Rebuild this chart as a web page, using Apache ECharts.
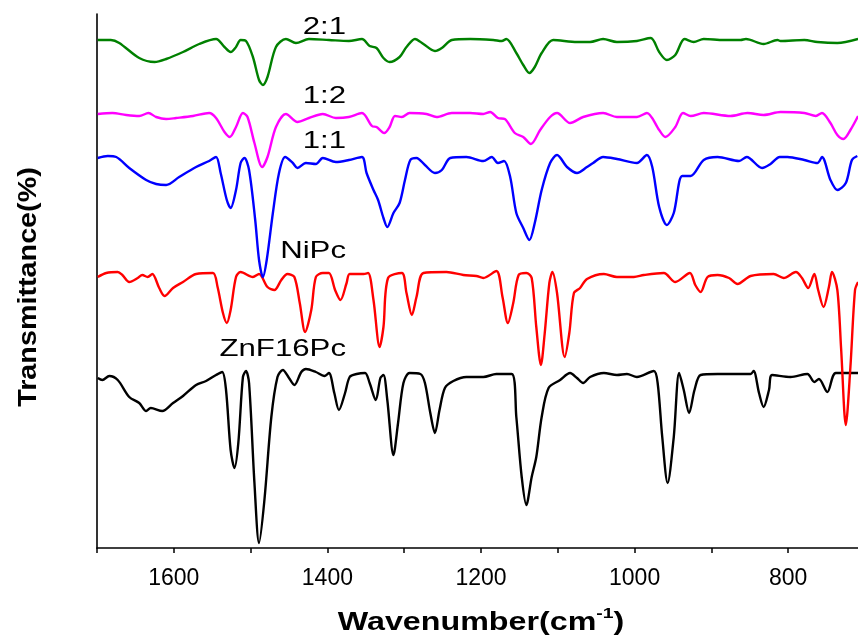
<!DOCTYPE html>
<html>
<head>
<meta charset="utf-8">
<script src="https://cdn.jsdelivr.net/npm/echarts@6/dist/echarts.min.js"></script>
<style>html,body{margin:0;padding:0;background:#fff}#c{width:858px;height:639px}</style>
</head>
<body>
<div id="c"></div>
<script>
// Wavenumber (cm-1) vs. offset transmittance (arbitrary units)
const seriesNames = ['ZnF16Pc', 'NiPc', '1:1', '1:2', '2:1'];
const tickLabels = [1600, 1400, 1200, 1000, 800];

const znF16Pc = [[1699,170],[1693,168],[1684,172],[1673,168],[1658,151],[1645,145],[1636,137],[1630,140],[1615,137],[1601,145],[1588,152],[1571,163],[1558,167],[1545,173],[1537,176],[1532,158],[1526,98],[1521,80],[1516,105],[1510,171],[1506,177],[1502,165],[1495,65],[1489,5],[1482,48],[1473,131],[1465,171],[1458,178],[1450,170],[1443,163],[1434,176],[1428,179],[1415,176],[1404,172],[1398,175],[1391,155],[1385,138],[1377,155],[1371,171],[1362,174],[1351,175],[1345,165],[1337,148],[1331,170],[1327,173],[1322,148],[1314,93],[1308,125],[1301,165],[1293,175],[1279,174],[1273,165],[1266,135],[1260,115],[1254,138],[1247,160],[1236,167],[1219,171],[1197,171],[1180,174],[1160,174],[1154,131],[1147,71],[1141,43],[1134,71],[1128,91],[1121,131],[1112,160],[1097,168],[1084,175],[1075,170],[1067,165],[1058,171],[1040,175],[1023,173],[1010,174],[997,171],[975,177],[970,165],[964,111],[957,65],[949,111],[942,175],[936,158],[929,135],[922,158],[914,173],[892,174],[875,174],[849,174],[845,177],[838,155],[832,141],[825,158],[821,173],[797,171],[775,174],[766,166],[760,169],[749,156],[738,175],[709,175]];

const niPc = [[1699,271],[1688,275],[1673,276],[1667,273],[1658,266],[1647,270],[1641,273],[1634,271],[1628,274],[1619,260],[1612,252],[1601,260],[1588,266],[1571,274],[1549,275],[1543,261],[1536,235],[1531,225],[1526,238],[1519,271],[1513,276],[1497,271],[1489,274],[1478,261],[1469,258],[1460,268],[1452,274],[1443,271],[1436,245],[1429,216],[1421,238],[1415,271],[1406,275],[1398,275],[1390,258],[1383,248],[1375,265],[1371,274],[1353,274],[1347,275],[1340,248],[1332,201],[1327,221],[1321,270],[1303,275],[1297,255],[1290,233],[1284,251],[1275,275],[1245,276],[1223,273],[1206,272],[1197,270],[1180,277],[1172,251],[1165,225],[1158,245],[1151,273],[1141,275],[1134,270],[1128,221],[1122,183],[1117,215],[1111,265],[1107,276],[1101,255],[1091,191],[1085,215],[1079,255],[1071,260],[1062,269],[1040,274],[1023,271],[1001,271],[988,273],[962,275],[947,266],[928,275],[921,263],[914,256],[905,271],[892,273],[877,270],[866,264],[849,272],[819,274],[806,270],[790,276],[782,270],[774,260],[766,274],[761,258],[754,241],[747,261],[743,276],[736,258],[731,198],[725,123],[719,181],[713,258],[709,266]];

const ratio11 = [[1699,390],[1686,392],[1675,391],[1658,380],[1636,368],[1623,364],[1610,363],[1593,371],[1571,381],[1554,387],[1545,391],[1539,375],[1531,348],[1526,340],[1519,358],[1513,385],[1508,390],[1502,378],[1494,328],[1489,288],[1484,271],[1479,288],[1471,335],[1463,375],[1455,391],[1445,385],[1439,380],[1428,385],[1415,384],[1406,390],[1389,386],[1372,388],[1355,391],[1349,375],[1340,358],[1334,348],[1327,330],[1322,321],[1314,335],[1306,345],[1299,368],[1292,388],[1284,390],[1273,383],[1260,375],[1251,378],[1240,390],[1219,391],[1197,387],[1186,391],[1178,385],[1170,387],[1162,371],[1154,335],[1145,320],[1137,308],[1130,325],[1121,358],[1110,385],[1101,393],[1088,381],[1075,375],[1062,381],[1054,385],[1041,391],[1023,389],[997,385],[984,393],[977,381],[968,341],[958,323],[949,335],[938,372],[927,372],[910,388],[892,391],[864,387],[854,391],[834,380],[823,384],[811,391],[801,391],[779,388],[762,385],[756,391],[745,368],[736,358],[725,365],[717,388],[710,392]];

const ratio12 = [[1699,434],[1680,435],[1662,433],[1645,432],[1633,435],[1623,431],[1610,429],[1597,430],[1575,432],[1554,435],[1545,430],[1534,416],[1527,411],[1519,421],[1510,435],[1504,431],[1495,405],[1485,381],[1478,391],[1467,421],[1454,434],[1439,426],[1424,430],[1406,434],[1389,430],[1372,431],[1355,435],[1342,422],[1336,421],[1326,415],[1319,421],[1312,432],[1303,431],[1293,435],[1271,434],[1258,431],[1238,435],[1214,435],[1197,434],[1188,436],[1178,430],[1169,429],[1156,415],[1145,411],[1135,404],[1123,418],[1110,431],[1101,435],[1084,425],[1067,431],[1041,435],[1023,431],[997,431],[984,435],[968,418],[960,411],[947,421],[937,435],[927,432],[910,435],[875,432],[853,435],[832,433],[810,436],[779,435],[764,432],[756,435],[745,425],[736,413],[728,409],[719,418],[709,432]];

const ratio21 = [[1699,508],[1682,508],[1671,505],[1645,490],[1625,486],[1610,489],[1588,496],[1567,504],[1545,509],[1534,501],[1526,496],[1519,501],[1513,508],[1506,507],[1497,491],[1489,468],[1484,463],[1478,471],[1467,501],[1454,509],[1441,505],[1424,509],[1398,508],[1372,507],[1355,509],[1345,502],[1336,500],[1327,490],[1319,486],[1306,491],[1297,501],[1286,509],[1275,504],[1260,497],[1251,500],[1238,508],[1214,509],[1184,508],[1173,507],[1167,509],[1154,495],[1145,483],[1137,475],[1130,481],[1121,495],[1106,508],[1075,506],[1058,506],[1041,509],[1023,506],[997,507],[979,510],[968,496],[958,488],[947,493],[935,509],[923,506],[910,509],[884,508],[862,508],[855,509],[832,504],[814,508],[810,507],[779,508],[762,506],[736,505],[709,509]];

const seriesData = [znF16Pc, niPc, ratio11, ratio12, ratio21];
const seriesColors = ['#000000', '#ff0000', '#0000ff', '#ff00ff', '#008000'];

const chart = echarts.init(document.getElementById('c'), null, {renderer: 'canvas'});

const labelFont = '"Liberation Sans", Arial, sans-serif';
function annot(text, y) {
  return {
    type: 'text', x: 346, y: y, scaleX: 1.3, z: 100,
    style: {text: text, x: 0, y: 0, align: 'right', verticalAlign: 'middle',
      font: '24px ' + labelFont, fill: '#000'}
  };
}

chart.setOption({
  animation: false,
  backgroundColor: '#fff',
  grid: {left: 97, right: -7, top: 14, bottom: 91, containLabel: false, outerBoundsMode: 'none'},
  xAxis: {
    type: 'value', min: 700, max: 1700, interval: 100, inverse: true,
    axisLine: {show: true, onZero: false, lineStyle: {color: '#000', width: 1.6}},
    axisTick: {show: true, length: 5, inside: false, lineStyle: {color: '#000', width: 1.5}},
    axisLabel: {
      show: true, margin: 19, color: '#000', fontSize: 23, fontFamily: labelFont,
      formatter: function (v) { return tickLabels.indexOf(v) >= 0 ? String(v) : ''; }
    },
    splitLine: {show: false}
  },
  yAxis: {
    type: 'value', min: 0, max: 534,
    axisLine: {show: true, lineStyle: {color: '#000', width: 1.6}},
    axisTick: {show: false}, axisLabel: {show: false}, splitLine: {show: false}
  },
  series: seriesData.map(function (d, i) {
    return {
      name: seriesNames[i], type: 'line', data: d, symbol: 'none', smooth: 0.3,
      lineStyle: {color: seriesColors[i], width: 2.4}, clip: true, z: 2 + i
    };
  }),
  graphic: [
    annot('2:1', 27.4), annot('1:2', 96.4), annot('1:1', 141.4),
    annot('NiPc', 251.4), annot('ZnF16Pc', 349.4),
    {
      type: 'text', x: 481, y: 621, scaleX: 1.29, z: 100,
      style: {
        text: '{m|Wavenumber(cm}{s|-1}{m|)}', x: 0, y: 0, align: 'center', verticalAlign: 'middle',
        rich: {
          m: {fontSize: 25, fontWeight: 'bold', fontFamily: labelFont, fill: '#000', lineHeight: 30, verticalAlign: 'bottom'},
          s: {fontSize: 15, fontWeight: 'bold', fontFamily: labelFont, fill: '#000', lineHeight: 30, verticalAlign: 'top'}
        }
      }
    },
    {
      type: 'text', x: 29, y: 287, rotation: Math.PI / 2, scaleX: 1.15, z: 100,
      style: {text: 'Transmittance(%)', x: 0, y: 0, align: 'center', verticalAlign: 'middle',
        font: 'bold 25px ' + labelFont, fill: '#000'}
    }
  ]
});
</script>
</body>
</html>
